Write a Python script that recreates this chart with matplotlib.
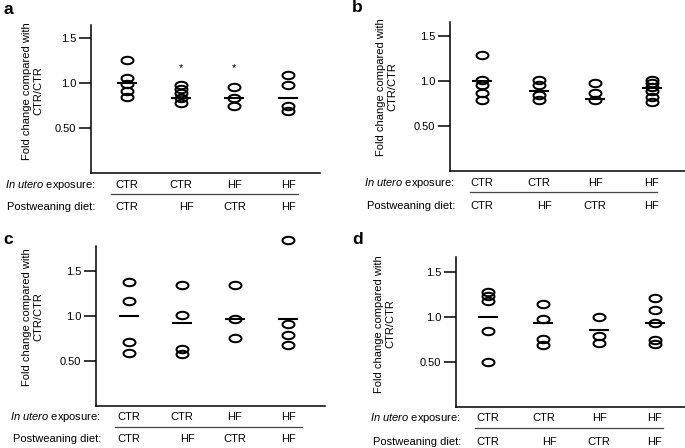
import matplotlib
matplotlib.use("Agg")
import matplotlib.pyplot as plt
import matplotlib.transforms as mtransforms
from matplotlib.path import Path
import numpy as np

plt.rcParams['font.family'] = ['Liberation Sans', 'DejaVu Sans']
plt.rcParams['mathtext.fontset'] = 'custom'
plt.rcParams['mathtext.rm'] = 'Liberation Sans'
plt.rcParams['mathtext.it'] = 'Liberation Sans:italic'

W, H = 685, 448

in_utero = ["CTR", "CTR", "HF", "HF"]
postweaning = ["CTR", "HF", "CTR", "HF"]
yticks = [0.5, 1.0, 1.5]
ytick_labels = ["0.50", "1.0", "1.5"]

# Panel a
a_points = [[1.25, 1.05, 0.99, 0.91, 0.84],
            [0.98, 0.93, 0.89, 0.83, 0.78],
            [0.95, 0.83, 0.74],
            [1.09, 0.98, 0.74, 0.69]]
a_means = [1.0, 0.83, 0.83, 0.83]
a_stars = [None, 1.17, 1.17, None]

# Panel b
b_points = [[1.29, 1.01, 0.95, 0.86, 0.78],
            [1.01, 0.95, 0.84, 0.79],
            [0.97, 0.86, 0.78],
            [1.01, 0.97, 0.93, 0.88, 0.82, 0.76]]
b_means = [1.0, 0.88, 0.80, 0.92]

# Panel c
c_points = [[1.38, 1.16, 0.71, 0.59],
            [1.34, 1.01, 0.63, 0.58],
            [1.34, 0.96, 0.75],
            [1.84, 0.91, 0.79, 0.67]]
c_means = [1.0, 0.92, 0.96, 0.96]

# Panel d
d_points = [[1.27, 1.23, 1.18, 0.84, 0.50],
            [1.14, 0.97, 0.75, 0.69],
            [1.0, 0.79, 0.71],
            [1.21, 1.07, 0.93, 0.74, 0.70]]
d_means = [1.0, 0.93, 0.85, 0.93]

# ellipse marker
t = np.linspace(0, 2 * np.pi, 60)
ell = Path(np.column_stack([np.cos(t), 0.62 * np.sin(t)]), closed=True)

fig = plt.figure(figsize=(W / 100, H / 100), dpi=100)


def fx(px):
    return px / W


def fy(py):
    return 1 - py / H


def panel(letter, letter_xy, left, right, top, bottom, cat0, cat3, pts, means,
          stars, ylab_xy, row1_y, line_y, row2_y, line_x):
    ax = fig.add_axes([fx(left), fy(bottom), fx(right - left), (bottom - top) / H])
    sp = (cat3 - cat0) / 3.0
    ax.set_xlim((left - cat0) / sp, (right - cat0) / sp)
    ax.set_ylim(0, (bottom - top) / 90.0)
    for i, grp in enumerate(pts):
        ax.plot([i] * len(grp), grp, linestyle='none', marker=ell, ms=8.6,
                mfc='none', mec='black', mew=1.45, clip_on=False)
        ax.plot([i], [means[i]], linestyle='none', marker='_', ms=14,
                mec='black', mew=1.5, clip_on=False)
        if stars is not None and stars[i] is not None:
            ax.text(i, stars[i], "*", ha='center', va='center', fontsize=8)
    for s in ['top', 'right']:
        ax.spines[s].set_visible(False)
    for s in ['left', 'bottom']:
        ax.spines[s].set_linewidth(1.1)
    ax.set_yticks(yticks)
    ax.set_yticklabels(ytick_labels)
    ax.tick_params(axis='y', length=9, width=1.1, pad=1.5, labelsize=8)
    ax.set_xticks([])
    fig.text(fx(ylab_xy[0]), fy(ylab_xy[1]), "Fold change compared with\nCTR/CTR",
             rotation=90, ha='center', va='center', fontsize=8, multialignment='center')
    fig.text(fx(letter_xy[0]), fy(letter_xy[1]), letter, fontsize=12.5,
             fontweight='bold', ha='left', va='center')
    tr = mtransforms.blended_transform_factory(ax.transData, fig.transFigure)
    for i in range(4):
        ax.text(i, fy(row1_y), in_utero[i], transform=tr, ha='center', va='center', fontsize=8)
        ax.text(i + (0.1 if postweaning[i] == "HF" and i == 1 else 0), fy(row2_y),
                postweaning[i], transform=tr, ha='center', va='center', fontsize=8)
    fig.text(fx(left + 5), fy(row1_y), r"$\mathit{In\ utero}$ exposure:",
             ha='right', va='center', fontsize=8)
    fig.text(fx(left + 5), fy(row2_y), "Postweaning diet:",
             ha='right', va='center', fontsize=8)
    fig.add_artist(plt.Line2D([fx(line_x[0]), fx(line_x[1])], [fy(line_y), fy(line_y)],
                              color='#444444', lw=0.9, transform=fig.transFigure))
    return ax


panel("a", (3, 10), 90.7, 320, 25, 173, 127, 288, a_points, a_means, a_stars,
      (33, 91), 185, 194, 207, (111, 298))
panel("b", (352, 8), 450, 685, 21.7, 170.7, 482, 651.7, b_points, b_means, None,
      (386.7, 87), 182.7, 192.3, 205.7, (470, 657))
panel("c", (3, 239), 96, 325, 245.7, 405.7, 129, 288, c_points, c_means, None,
      (33, 317), 417.3, 426.7, 439, (115, 302))
panel("d", (352, 239), 456, 685, 257.3, 406.7, 487.7, 655, d_points, d_means, None,
      (385, 324), 418.3, 428, 442.3, (475, 662.7))

fig.savefig("out.png", dpi=100)
